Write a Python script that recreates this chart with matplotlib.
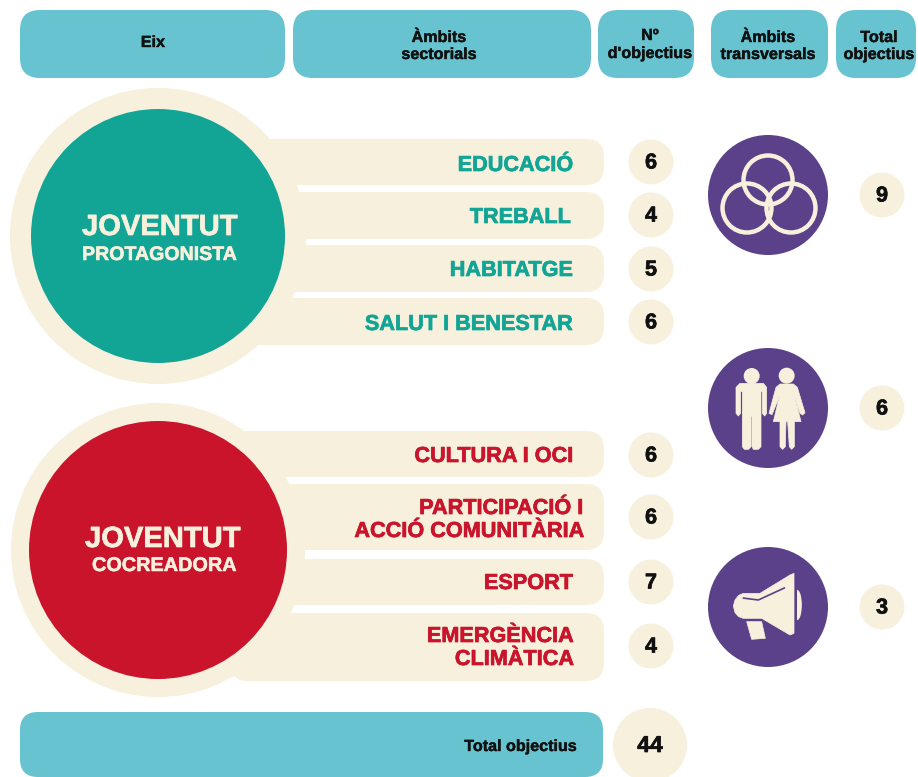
# -*- coding: utf-8 -*-
import matplotlib
matplotlib.use("Agg")
import matplotlib.pyplot as plt
import matplotlib.patheffects as pe
from matplotlib.patches import Circle, FancyBboxPatch, Polygon, Ellipse

# dades
capcaleres = ["Eix", "Àmbits\nsectorials", "Nº\nd'objectius", "Àmbits\ntransversals", "Total\nobjectius"]
eixos = [("JOVENTUT", "PROTAGONISTA"), ("JOVENTUT", "COCREADORA")]
ambits_1 = ["EDUCACIÓ", "TREBALL", "HABITATGE", "SALUT I BENESTAR"]
objectius_1 = [6, 4, 5, 6]
ambits_2 = ["CULTURA I OCI", "PARTICIPACIÓ I\nACCIÓ COMUNITÀRIA", "ESPORT", "EMERGÈNCIA\nCLIMÀTICA"]
objectius_2 = [6, 6, 7, 4]
transversals = [9, 6, 3]
total_etiqueta = "Total objectius"
total = 44

# colors
BLAU = "#66c3cf"
CREMA = "#f6f0dc"
VERD = "#12a596"
VERMELL = "#c9142c"
LILA = "#5b4189"
NEGRE = "#111111"

plt.rcParams["font.family"] = ["Liberation Sans", "DejaVu Sans"]

fig = plt.figure(figsize=(9.18, 7.77), dpi=100)
ax = fig.add_axes([0, 0, 1, 1])
ax.set_xlim(0, 918)
ax.set_ylim(777, 0)
ax.axis("off")


def caixa(x0, x1, y0, y1, r, color, z=1):
    ax.add_patch(FancyBboxPatch((x0 + r, y0 + r), x1 - x0 - 2 * r, y1 - y0 - 2 * r,
                                boxstyle="round,pad=%f,rounding_size=%f" % (r, r),
                                fc=color, ec="none", zorder=z))


def cercle(x, y, r, color, z=2):
    ax.add_patch(Circle((x, y), r, fc=color, ec="none", zorder=z))


def text(x, y, t, mida, color, ha="center", gruix=0.5, z=6):
    # y es la linia de base, en pixels
    ax.text(x, y, t, ha=ha, va="baseline", fontsize=mida, fontweight="bold", color=color, zorder=z,
            path_effects=[pe.withStroke(linewidth=gruix, foreground=color)])


# capçaleres
cap_x = [(20, 285), (293, 591), (598, 694), (711, 828), (836, 916)]
cap_text_x = [153, 439, 650, 768, 879]
cap_base = [[47], [42, 59], [40, 58], [42, 59], [42, 59]]
for (x0, x1), tx, t, bases in zip(cap_x, cap_text_x, capcaleres, cap_base):
    caixa(x0, x1, 10, 78, 20, BLAU)
    for linia, b in zip(t.split("\n"), bases):
        text(tx, b, linia, 11.6, NEGRE, gruix=0.3)

# cercles grans
cercles = [(158, 236, 148, 127, VERD), (158, 550, 147, 129, VERMELL)]
for cx, cy, r0, r1, col in cercles:
    cercle(cx, cy, r0, CREMA, 1)
    cercle(cx, cy, r1, col, 4)
text(82, 235, eixos[0][0], 21, CREMA, ha="left")
text(82, 260, eixos[0][1], 14.1, CREMA, ha="left", gruix=0.4)
text(85, 547, eixos[1][0], 21, CREMA, ha="left")
text(92, 571, eixos[1][1], 14.3, CREMA, ha="left", gruix=0.4)

# files dels àmbits
files_1 = [(139, 185), (192, 239), (245, 292), (298, 345)]
files_2 = [(431, 477), (484, 550), (559, 605), (613, 681)]
num_y_1 = [162, 215, 269, 322]
num_y_2 = [455, 517, 582, 646]
base_1 = [[171], [223], [276], [330]]
base_2 = [[462], [514, 537], [589], [642, 665]]
dreta_1 = [[573], [571], [573], [573]]
dreta_2 = [[573], [583, 584], [573], [574, 574]]
blocs = [(ambits_1, objectius_1, files_1, num_y_1, base_1, dreta_1, VERD),
         (ambits_2, objectius_2, files_2, num_y_2, base_2, dreta_2, VERMELL)]
for noms, vals, files, ys, bases, dretes, col in blocs:
    for nom, v, (y0, y1), ny, bs, ds in zip(noms, vals, files, ys, bases, dretes):
        caixa(230, 604, y0, y1, 18, CREMA, 2)
        for linia, b, d in zip(nom.split("\n"), bs, ds):
            text(d, b, linia, 15.6, col, ha="right")
        cercle(651, ny, 22.5, CREMA)
        text(651, ny + 6.5, str(v), 15.5, NEGRE)

# cercles transversals
icones_y = [195, 408, 607]
for iy, v in zip(icones_y, transversals):
    cercle(768, iy, 60, LILA)
    cercle(882, iy, 22.5, CREMA)
    text(882, iy + 6.5, str(v), 15.5, NEGRE)

# icona anells
for cx, cy in [(768, 180), (747, 208), (791, 208)]:
    ax.add_patch(Circle((cx, cy), 24.5, fc="none", ec=CREMA, lw=3.2, zorder=4))


# icona persones (coordenades del retall x3)
def p1(x, y):
    return 700 + x / 3, 120 + y / 3


def poli(punts, conv, color=CREMA, z=4):
    ax.add_patch(Polygon([conv(*q) for q in punts], closed=True, fc=color, ec=color,
                         lw=0.5, joinstyle="round", zorder=z))


cercle(*p1(155, 768), 8, CREMA, 4)
poli([(120, 790), (190, 790), (200, 802), (200, 880), (194, 888), (187, 880), (187, 815),
      (183, 815), (183, 980), (175, 988), (160, 988), (156, 980), (156, 890), (153, 890),
      (153, 980), (146, 988), (133, 988), (127, 980), (127, 815), (122, 815), (122, 880),
      (115, 888), (108, 880), (108, 802)], p1)
cercle(*p1(260, 767), 8, CREMA, 4)
poli([(240, 792), (280, 792), (292, 802), (315, 878), (308, 885), (300, 880), (284, 830),
      (303, 905), (283, 905), (283, 980), (275, 988), (268, 980), (263, 905), (258, 905),
      (256, 980), (248, 988), (240, 980), (240, 905), (220, 905), (238, 830), (216, 884),
      (207, 880), (228, 802)], p1)


# icona megàfon
def p2(x, y):
    return 690 + x / 3, 540 + y / 3


ax.add_patch(Ellipse(p2(322, 195), 9, 30, fc=CREMA, ec="none", zorder=4))
ax.add_patch(Polygon([p2(300, 140), p2(322, 140), p2(322, 250), p2(300, 250)], fc=LILA, ec="none", zorder=4.5))
poli([(300, 105), (312, 100), (312, 280), (300, 285), (215, 235), (160, 235), (146, 230),
      (135, 218), (130, 198), (135, 180), (146, 166), (160, 160), (210, 160)], p2, z=4.6)
poli([(170, 245), (215, 245), (226, 295), (185, 298)], p2)
ax.add_patch(Polygon([p2(158, 174), p2(205, 180), p2(285, 143)], closed=False, fill=False,
                     ec=LILA, lw=1.2, zorder=5))

# total
caixa(20, 603, 712, 777, 18, BLAU)
text(577, 751, total_etiqueta, 11.6, NEGRE, ha="right", gruix=0.3)
cercle(650, 745, 37, CREMA)
text(650, 752, str(total), 16.5, NEGRE)

fig.savefig("out.png", dpi=100)
